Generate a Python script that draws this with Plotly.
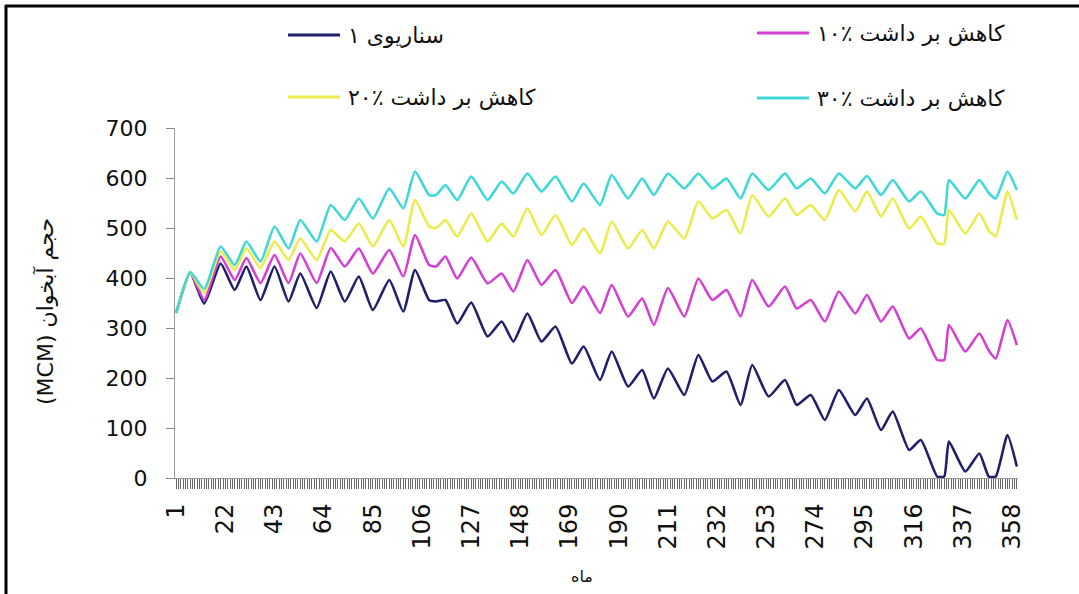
import plotly.graph_objects as go

# Monthly aquifer volume (MCM) at seasonal turning points, 360-month simulation
months = [1, 7, 13, 20, 26, 31, 37, 43, 49, 54, 61, 67, 73, 79, 85, 92, 98, 103, 109, 112,
          116, 121, 127, 134, 140, 145, 151, 157, 163, 170, 175, 182, 187, 194, 200, 205,
          211, 218, 224, 230, 236, 242, 247, 254, 261, 266, 272, 278, 284, 291, 296, 302,
          307, 314, 319, 326, 329, 331, 338, 344, 348, 351, 356, 360]

scenario_1 = [330, 410, 349, 429, 376, 423, 356, 423, 353, 409, 340, 413, 353, 403, 336, 396,
              333, 416, 356, 353, 356, 309, 351, 283, 313, 273, 329, 273, 303, 229, 263, 196,
              253, 183, 216, 159, 219, 166, 246, 193, 213, 146, 226, 163, 196, 146, 166, 116,
              176, 126, 159, 96, 133, 56, 76, 3, 3, 73, 13, 49, 3, 3, 86, 23]

cut_10 = [330, 410, 356, 443, 396, 440, 390, 446, 390, 449, 390, 460, 423, 459, 409, 456,
          403, 486, 426, 423, 443, 399, 441, 389, 409, 373, 436, 386, 416, 350, 383, 330,
          386, 323, 359, 306, 380, 323, 399, 356, 376, 323, 396, 343, 383, 339, 356, 313,
          373, 329, 366, 313, 343, 279, 299, 236, 236, 306, 253, 289, 255, 239, 316, 266]

cut_20 = [330, 410, 370, 453, 416, 460, 420, 473, 436, 479, 436, 496, 473, 509, 463, 516,
          463, 556, 503, 500, 516, 483, 529, 473, 509, 483, 539, 486, 526, 466, 499, 449,
          513, 459, 496, 459, 513, 479, 553, 519, 536, 489, 566, 523, 559, 526, 546, 516,
          576, 533, 573, 523, 559, 499, 523, 469, 469, 536, 489, 529, 495, 483, 573, 516]

cut_30 = [330, 412, 378, 463, 426, 473, 433, 503, 459, 516, 473, 546, 516, 559, 519, 579,
          539, 613, 566, 566, 586, 556, 603, 556, 593, 569, 609, 573, 603, 553, 589, 546,
          606, 559, 599, 566, 609, 579, 609, 579, 599, 559, 609, 576, 609, 579, 599, 569,
          609, 579, 604, 566, 596, 553, 573, 529, 526, 596, 559, 596, 570, 559, 613, 576]

series_names = ["سناریوی ۱", "کاهش بر داشت ٪۱۰", "کاهش بر داشت ٪۲۰", "کاهش بر داشت ٪۳۰"]
series_colors = ["#1f1f6b", "#d43fd4", "#ebeb4a", "#3fd8d8"]

axis_months = list(range(1, 361))
labeled_months = [1, 22, 43, 64, 85, 106, 127, 148, 169, 190, 211, 232, 253, 274, 295, 316, 337, 358]
x_ticktext = [str(m) if m in labeled_months else "" for m in axis_months]

y_ticks = [0, 100, 200, 300, 400, 500, 600, 700]

x_title = "ماه"
y_title = "\u202bحجم آبخوان (MCM)\u202c"

W, H = 1079, 594
L, R, T, B = 175, 61, 128, 116
PW, PH = W - L - R, H - T - B


def px(x):
    return (x - L) / PW


def py(y):
    return (H - B - y) / PH


fig = go.Figure()
for name, vals, col in zip(series_names, [scenario_1, cut_10, cut_20, cut_30], series_colors):
    fig.add_trace(go.Scatter(x=months, y=vals, mode="lines", name=name,
                             line=dict(color=col, width=2.6, shape="spline", smoothing=0.5)))

# Legend drawn by hand: two columns, line sample to the left of the label
legend_pos = [(288, 35), (757, 33), (288, 97), (757, 98)]
shapes = []
annotations = []
for (lx, ly), name, col in zip(legend_pos, series_names, series_colors):
    shapes.append(dict(type="line", xref="paper", yref="paper",
                       x0=px(lx), x1=px(lx + 52), y0=py(ly), y1=py(ly),
                       line=dict(color=col, width=3)))
    annotations.append(dict(xref="paper", yref="paper", x=px(lx + 58), y=py(ly + 1),
                            xanchor="left", yanchor="middle", showarrow=False, text=name,
                            font=dict(family="DejaVu Sans", size=22, color="#111")))

# outer frame (top and left edges)
shapes.append(dict(type="line", xref="paper", yref="paper", x0=px(5), x1=px(1079),
                   y0=py(6), y1=py(6), line=dict(color="black", width=3)))
shapes.append(dict(type="line", xref="paper", yref="paper", x0=px(6), x1=px(6),
                   y0=py(5), y1=py(594), line=dict(color="black", width=3)))

annotations.append(dict(xref="paper", yref="paper", x=px(582), y=py(576), showarrow=False,
                        xanchor="center", yanchor="middle",
                        text=x_title, font=dict(family="DejaVu Sans", size=16, color="#111")))
annotations.append(dict(xref="paper", yref="paper", x=px(45), y=py(312), showarrow=False,
                        xanchor="center", yanchor="middle",
                        text=y_title, textangle=-90,
                        font=dict(family="DejaVu Sans", size=22, color="#111")))

fig.update_layout(
    width=W, height=H,
    margin=dict(l=L, r=R, t=T, b=B, pad=0),
    paper_bgcolor="white", plot_bgcolor="white",
    showlegend=False,
    shapes=shapes, annotations=annotations,
    xaxis=dict(range=[0.5, 360.5], tickmode="array", tickvals=axis_months, ticktext=x_ticktext,
               ticks="outside", ticklen=10, tickwidth=1, tickcolor="#666", tickangle=-90,
               tickfont=dict(family="DejaVu Sans", size=24, color="#111"),
               ticklabelstandoff=5,
               showline=True, linecolor="#999", linewidth=1, showgrid=False, zeroline=False,
               automargin=False),
    yaxis=dict(range=[0, 700], tickmode="array", tickvals=y_ticks,
               ticks="outside", ticklen=8, tickwidth=1, tickcolor="#888",
               tickfont=dict(family="DejaVu Sans", size=22, color="#111"),
               ticklabelstandoff=14,
               showline=True, linecolor="#999", linewidth=1, showgrid=False, zeroline=False,
               automargin=False),
)

fig.write_html("out.html")
